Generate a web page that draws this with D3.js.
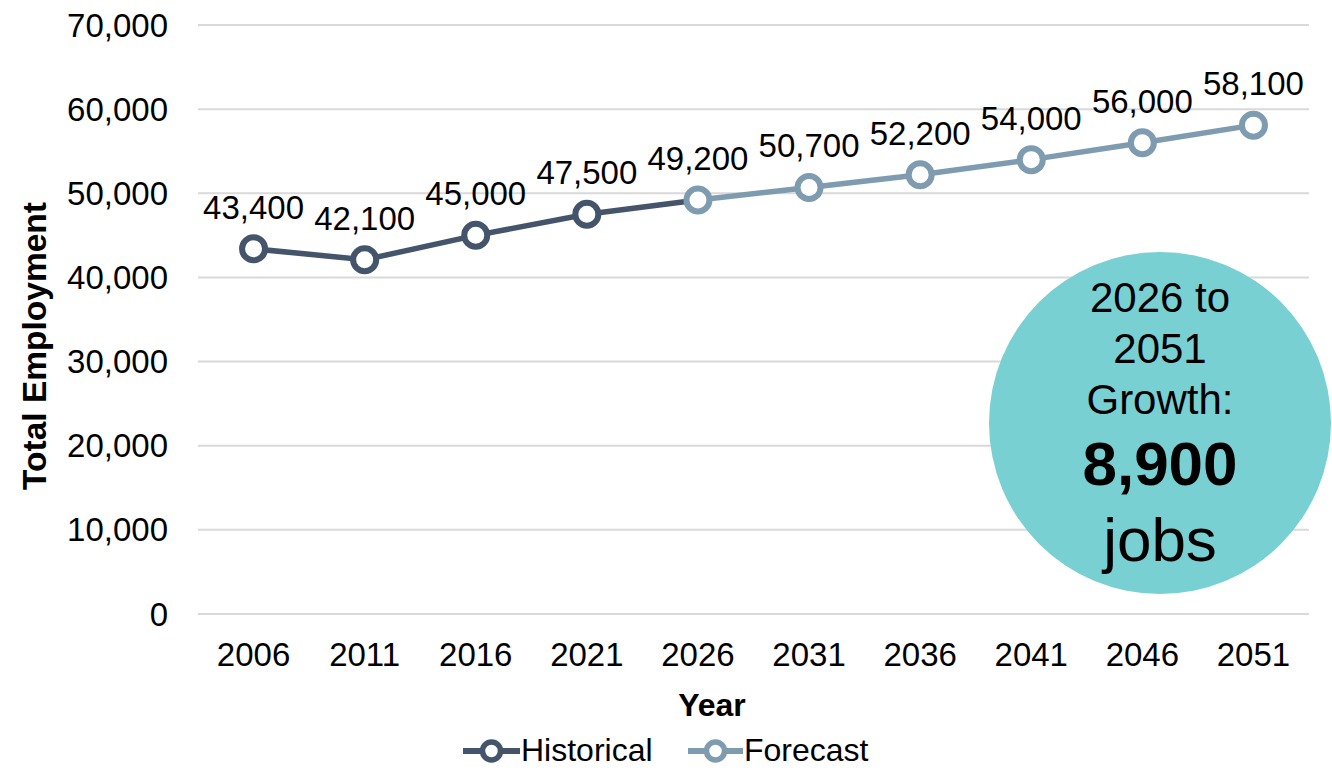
<!DOCTYPE html>
<html><head><meta charset="utf-8">
<script src="https://cdn.jsdelivr.net/npm/d3@7"></script>
<style>body{margin:0;background:#fff}svg{display:block}text{font-family:"Liberation Sans",Arial,sans-serif}</style>
</head><body><svg id="c" width="1332" height="770"></svg>
<script>
const years = ["2006","2011","2016","2021","2026","2031","2036","2041","2046","2051"];
const historicalYears = ["2006","2011","2016","2021","2026"];
const historicalValues = [43400, 42100, 45000, 47500, 49200];
const forecastYears = ["2026","2031","2036","2041","2046","2051"];
const forecastValues = [49200, 50700, 52200, 54000, 56000, 58100];
const yTicks = [0,10000,20000,30000,40000,50000,60000,70000];
const calloutLines = ["2026 to","2051","Growth:"];
const calloutValue = "8,900";
const calloutUnit = "jobs";
const seriesNames = ["Historical","Forecast"];

const histColor = "#44546A", foreColor = "#7E9BAF", circleColor = "#79D0D2";
const svg = d3.select("#c");
const x = d3.scaleBand().domain(years).range([198, 1309]);
const y = d3.scaleLinear().domain([0,70000]).range([614, 25]);
const fmt = d3.format(",");
const cx = d => x(d) + x.bandwidth()/2;

// grid
svg.append("g").selectAll("line").data(yTicks).join("line")
  .attr("x1",198).attr("x2",1309).attr("y1",d=>y(d)).attr("y2",d=>y(d))
  .attr("stroke","#d9d9d9").attr("stroke-width",2);
// y labels
svg.append("g").selectAll("text").data(yTicks).join("text")
  .attr("x",168).attr("y",d=>y(d)+11.5).attr("text-anchor","end")
  .attr("font-size",33).attr("fill","#000").text(d=>fmt(d));
// x labels
svg.append("g").selectAll("text").data(years).join("text")
  .attr("x",d=>cx(d)).attr("y",666).attr("text-anchor","middle")
  .attr("font-size",33).attr("fill","#000").text(d=>d);
// axis titles
svg.append("text").attr("x",712).attr("y",716).attr("text-anchor","middle")
  .attr("font-size",32).attr("font-weight","bold").text("Year");
svg.append("text").attr("transform","translate(46,346) rotate(-90)").attr("text-anchor","middle")
  .attr("font-size",33.5).attr("font-weight","bold").text("Total Employment");

// callout circle
svg.append("circle").attr("cx",1160).attr("cy",423).attr("r",171).attr("fill",circleColor);
const lineYs = [311.7, 363, 414];
calloutLines.forEach((t,i)=>svg.append("text").attr("x",1160).attr("y",lineYs[i])
  .attr("text-anchor","middle").attr("font-size",42).text(t));
svg.append("text").attr("x",1160).attr("y",485).attr("text-anchor","middle")
  .attr("font-size",62).attr("font-weight","bold").text(calloutValue);
svg.append("text").attr("x",1160).attr("y",561).attr("text-anchor","middle")
  .attr("font-size",62).text(calloutUnit);

const line = d3.line().x(d=>cx(d[0])).y(d=>y(d[1]));
const hist = historicalYears.map((yr,i)=>[yr,historicalValues[i]]);
const fore = forecastYears.map((yr,i)=>[yr,forecastValues[i]]);
svg.append("path").datum(hist).attr("d",line).attr("fill","none").attr("stroke",histColor).attr("stroke-width",5.5);
svg.append("path").datum(fore).attr("d",line).attr("fill","none").attr("stroke",foreColor).attr("stroke-width",5.5);
svg.append("g").selectAll("circle").data(hist.slice(0,4)).join("circle")
  .attr("cx",d=>cx(d[0])).attr("cy",d=>y(d[1])).attr("r",11.5)
  .attr("fill","#fff").attr("stroke",histColor).attr("stroke-width",6);
svg.append("g").selectAll("circle").data(fore).join("circle")
  .attr("cx",d=>cx(d[0])).attr("cy",d=>y(d[1])).attr("r",11.5)
  .attr("fill","#fff").attr("stroke",foreColor).attr("stroke-width",6);
// data labels
const allPts = hist.slice(0,4).concat(fore);
svg.append("g").selectAll("text").data(allPts).join("text")
  .attr("x",d=>cx(d[0])).attr("y",d=>y(d[1])-30).attr("text-anchor","middle")
  .attr("font-size",33).text(d=>fmt(d[1]));

// legend
const leg = [{name:seriesNames[0],color:histColor,x1:463,x2:520,tx:521},
             {name:seriesNames[1],color:foreColor,x1:688,x2:743,tx:744}];
leg.forEach(l=>{
  svg.append("line").attr("x1",l.x1).attr("x2",l.x2).attr("y1",751).attr("y2",751)
    .attr("stroke",l.color).attr("stroke-width",6);
  svg.append("circle").attr("cx",(l.x1+l.x2)/2).attr("cy",751).attr("r",9)
    .attr("fill","#fff").attr("stroke",l.color).attr("stroke-width",5.5);
  svg.append("text").attr("x",l.tx).attr("y",761).attr("font-size",32).text(l.name);
});
</script></body></html>
